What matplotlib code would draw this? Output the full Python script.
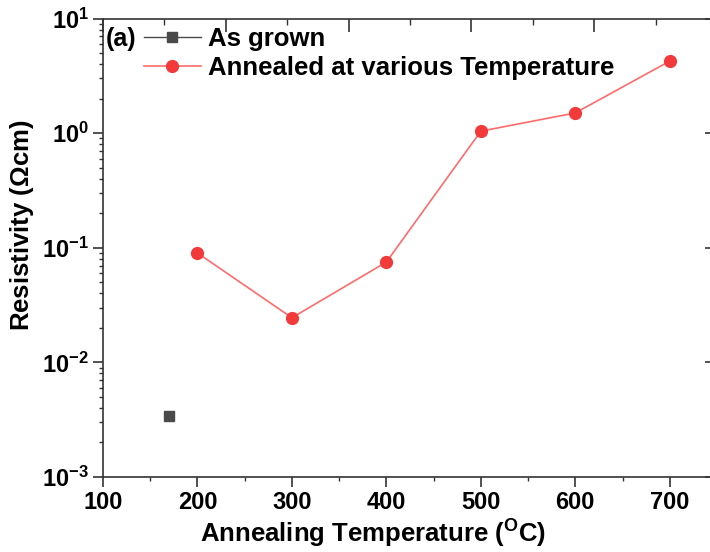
import numpy as np
import matplotlib
matplotlib.use("Agg")
import matplotlib.pyplot as plt
from matplotlib.lines import TICKLEFT
from matplotlib.ticker import FixedLocator, LogLocator, FuncFormatter, NullFormatter, MultipleLocator

plt.rcParams['font.family'] = ['Liberation Sans', 'DejaVu Sans']
plt.rcParams['font.weight'] = 'bold'
plt.rcParams['mathtext.fontset'] = 'custom'
plt.rcParams['mathtext.rm'] = 'Liberation Sans:bold'
plt.rcParams['mathtext.bf'] = 'Liberation Sans:bold'
plt.rcParams['mathtext.it'] = 'Liberation Sans:bold'

# Data
as_grown_temp = [170]
as_grown_rho = [0.0034]

anneal_temp = [200, 300, 400, 500, 600, 700]
anneal_rho = [0.090, 0.0245, 0.075, 1.04, 1.50, 4.25]

x_ticks = [100, 200, 300, 400, 500, 600, 700]

fig = plt.figure(figsize=(7.10, 5.52), dpi=100)
ax = fig.add_axes([103 / 710, 75 / 552, 614 / 710, 458.5 / 552])

ax.plot(as_grown_temp, as_grown_rho, color='#4a4a4a', marker='s', markersize=7.5,
        linewidth=1.0, label='As grown')
ax.plot(anneal_temp, anneal_rho, color='#ff6b6b', linewidth=1.2, marker='o',
        markersize=8.5, markerfacecolor='#f23a3a', markeredgecolor='#f23a3a',
        label='Annealed at various Temperature')

ax.set_yscale('log')
ax.set_xlim(100, 750)
ax.set_ylim(1e-3, 1e1)

ax.xaxis.set_major_locator(FixedLocator(x_ticks))
ax.xaxis.set_minor_locator(MultipleLocator(50))
ax.yaxis.set_major_locator(LogLocator(base=10, numticks=10))
ax.yaxis.set_minor_locator(LogLocator(base=10, subs=np.arange(2, 10), numticks=20))
ax.yaxis.set_minor_formatter(NullFormatter())
ax.yaxis.set_major_formatter(FuncFormatter(lambda v, p: r'$\mathrm{10^{%d}}$' % int(round(np.log10(v)))))

ax.tick_params(axis='both', which='major', labelsize=17, width=1.2, length=7,
               direction='out', color='#333333', pad=3)
ax.tick_params(axis='both', which='minor', width=1.0, length=3, direction='out', color='#333333')
ax.tick_params(axis='y', which='both', right=True, labelright=False)

# right side ticks point inward
for line in ax.yaxis.get_majorticklines()[1::2]:
    line.set_marker(TICKLEFT)
    line.set_markersize(9)
for line in ax.yaxis.get_minorticklines()[1::2]:
    line.set_marker(TICKLEFT)
    line.set_markersize(4)

for s in ax.spines.values():
    s.set_linewidth(1.2)
    s.set_color('#333333')

# top axis: mirrored frame ticks pointing into the plot
top = ax.twiny()
top.set_xlim(0, 5)
top.xaxis.set_major_locator(MultipleLocator(1))
top.xaxis.set_minor_locator(MultipleLocator(0.5))
top.tick_params(axis='x', which='major', direction='in', length=9, width=1.2,
                labeltop=False, color='#333333')
top.tick_params(axis='x', which='minor', direction='in', length=4, width=1.0, color='#333333')
for s in top.spines.values():
    s.set_visible(False)

ax.set_xlabel(r'Annealing Temperature ($\mathrm{^{O}}$C)', fontsize=18.5, fontweight='bold')
ax.xaxis.set_label_coords((373.5 - 103) / 614, -41 / 458.5)
ax.set_ylabel(r'Resistivity ($\Omega$cm)', fontsize=18.5, fontweight='bold')
ax.yaxis.set_label_coords(-67 / 614, (477 - 225) / 458.5)

ax.text(106 / 710, 1 - 39 / 552, '(a)', transform=fig.transFigure, fontsize=18,
        fontweight='bold', va='center', ha='left')

leg = ax.legend(loc='upper left', bbox_to_anchor=(144 / 710, 1 - 27 / 552),
                bbox_transform=fig.transFigure, frameon=False, fontsize=18.5,
                handlelength=2.2, handletextpad=0.3, labelspacing=0.18,
                borderpad=0, borderaxespad=0)

fig.savefig('out.png', dpi=100)
